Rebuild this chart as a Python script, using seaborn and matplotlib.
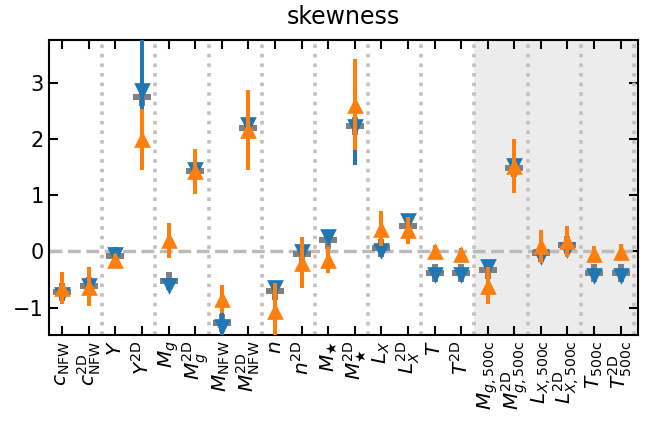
import numpy as np
import pandas as pd
import matplotlib
matplotlib.use("Agg")
import matplotlib.pyplot as plt
import seaborn as sns

labels = [r'$c_{\rm NFW}$', r'$c_{\rm NFW}^{\rm 2D}$', r'$Y$', r'$Y^{\rm 2D}$',
          r'$M_g$', r'$M_g^{\rm 2D}$', r'$M_{\rm NFW}$', r'$M_{\rm NFW}^{\rm 2D}$',
          r'$n$', r'$n^{\rm 2D}$', r'$M_\bigstar$', r'$M_\bigstar^{\rm 2D}$',
          r'$L_X$', r'$L_X^{\rm 2D}$', r'$T$', r'$T^{\rm 2D}$',
          r'$M_{g,\rm 500c}$', r'$M_{g,\rm 500c}^{\rm 2D}$',
          r'$L_{X,\rm 500c}$', r'$L_{X,\rm 500c}^{\rm 2D}$',
          r'$T_{\rm 500c}$', r'$T_{\rm 500c}^{\rm 2D}$']

grey_vals = [-0.72, -0.62, -0.08, 2.75, -0.53, 1.43, -1.28, 2.20, -0.71, -0.05, 0.20,
             2.24, 0.06, 0.46, -0.39, -0.39, -0.33, 1.49, -0.03, 0.12, -0.39, -0.39]
blue_vals = [-0.77, -0.62, -0.06, 2.86, -0.61, 1.45, -1.35, 2.26, -0.65, -0.01, 0.26,
             2.23, 0.00, 0.55, -0.42, -0.42, -0.27, 1.52, -0.09, 0.03, -0.43, -0.43]
blue_err = [0.12, 0.10, 0.05, 1.00, 0.08, 0.10, 0.30, 0.15, 0.08, 0.08, 0.08,
            0.68, 0.10, 0.12, 0.05, 0.05, 0.10, 0.10, 0.10, 0.10, 0.05, 0.05]
orange_vals = [-0.65, -0.63, -0.15, 2.00, 0.20, 1.43, -0.84, 2.17, -1.06, -0.20, -0.15,
               2.62, 0.41, 0.38, 0.01, -0.05, -0.61, 1.52, 0.09, 0.18, -0.05, -0.01]
orange_err = [0.28, 0.35, 0.10, 0.55, 0.31, 0.40, 0.25, 0.72, 0.50, 0.45, 0.23,
              0.81, 0.31, 0.24, 0.10, 0.12, 0.33, 0.48, 0.30, 0.27, 0.15, 0.15]

x = np.arange(len(labels))
df = pd.DataFrame({"x": x, "grey": grey_vals, "blue": blue_vals, "blue_err": blue_err,
                   "orange": orange_vals, "orange_err": orange_err})

sns.set_theme(style="ticks")
plt.rcParams["font.family"] = ["DejaVu Sans"]
plt.rcParams["mathtext.fontset"] = "dejavusans"
for key in ("text.color", "xtick.color", "ytick.color", "axes.labelcolor"):
    plt.rcParams[key] = "black"

fig = plt.figure(figsize=(6.45, 4.30), dpi=100)
ax = fig.add_axes([0.076, 0.221, 0.913, 0.6867])

xmin, xmax = -0.5, 21.65
ax.axvspan(15.5, xmax, color="grey", alpha=0.15, lw=0, zorder=0)
for xv in np.arange(1.5, 22, 2):
    ax.axvline(xv, color="#c8beb4", ls=":", lw=2.6, zorder=1)
ax.axhline(0, color="#bbbbbb", ls="--", lw=2.5, zorder=1)

sns.scatterplot(data=df, x="x", y="grey", marker="P", s=13 ** 2, color="grey",
                linewidth=0, ax=ax, zorder=2)
ax.errorbar(df["x"], df["blue"], yerr=df["blue_err"], fmt="none",
            ecolor="#1f77b4", elinewidth=2.9, capsize=0, zorder=3)
sns.scatterplot(data=df, x="x", y="blue", marker="v", s=12 ** 2, color="#1f77b4",
                linewidth=0, ax=ax, zorder=4)
ax.errorbar(df["x"], df["orange"], yerr=df["orange_err"], fmt="none",
            ecolor="#ff7f0e", elinewidth=2.9, capsize=0, zorder=5)
sns.scatterplot(data=df, x="x", y="orange", marker="^", s=12 ** 2, color="#ff7f0e",
                linewidth=0, ax=ax, zorder=6)

ax.set_xlim(xmin, xmax)
ax.set_ylim(-1.49, 3.78)
ax.set_xticks(x)
ax.set_xticklabels(labels, rotation=90, fontsize=14.5)
ax.set_yticks([-1, 0, 1, 2, 3])
ax.set_yticklabels(["\u22121", "0", "1", "2", "3"], fontsize=15)
ax.tick_params(direction="in", top=True, right=True, length=6.5, width=1.5, pad=4,
               colors="black")
for sp in ax.spines.values():
    sp.set_linewidth(1.5)
    sp.set_color("black")
ax.set_xlabel("")
ax.set_ylabel("")
ax.set_title("skewness", fontsize=17, pad=11, color="black")

fig.savefig("out.png", dpi=100)
